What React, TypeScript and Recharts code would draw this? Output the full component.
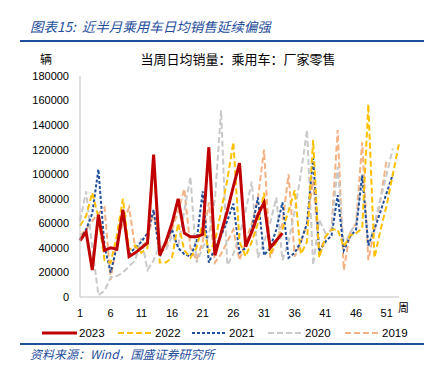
import React from "react";
import { LineChart, Line, XAxis, YAxis } from "recharts";

const weeks: number[] = Array.from({ length: 53 }, (_, i) => i + 1);

const s2023: (number | null)[] = [46000, 53000, 22000, 67000, 38000, 40000, 39000, 71000, 33000, 36000, 40000, 44000, 116000, 34000, 45000, 60000, 80000, 52000, 49000, 49000, 51000, 122000, 34000, 52000, 70000, 90000, 109000, 41000, 53000, 67000, 77000, 40000, 46000, 52000];
const s2022: (number | null)[] = [58000, 66000, 85000, 65000, 30000, 28000, 50000, 80000, 38000, 42000, 36000, 40000, 112000, 28000, 28000, 32000, 60000, 38000, 32000, 40000, 60000, 37000, 45000, 70000, 95000, 126000, 45000, 33000, 45000, 60000, 85000, 35000, 45000, 55000, 70000, 87000, 35000, 45000, 128000, 32000, 49000, 55000, 55000, 41000, 50000, 52000, 56000, 157000, 32000, 55000, 75000, 100000, 125000];
const s2021: (number | null)[] = [47000, 55000, 68000, 104000, 41000, 20000, 41000, 71000, 35000, 40000, 45000, 52000, 71000, 33000, 45000, 55000, 40000, 35000, 33000, 45000, 86000, 28000, 40000, 50000, 62000, 76000, 36000, 40000, 55000, 81000, 34000, 40000, 55000, 77000, 32000, 36000, 45000, 60000, 113000, 37000, 45000, 50000, 83000, 38000, 49000, 55000, 99000, 42000, 55000, 70000, 85000, 100000];
const s2020: (number | null)[] = [62000, 86000, 40000, 1500, 5000, 16000, 17000, 20000, 25000, 30000, 48000, 22000, 30000, 42000, 38000, 50000, 42000, 70000, 98000, 28000, 40000, 50000, 80000, 152000, 26000, 35000, 50000, 70000, 94000, 32000, 45000, 60000, 81000, 30000, 45000, 70000, 100000, 136000, 26000, 63000, 52000, 55000, 106000, 41000, 52000, 60000, 100000, 40000, 60000, 80000, 100000, 121000];
const s2019: (number | null)[] = [50000, 55000, 62000, 68000, 73000, 14000, 45000, 60000, 73000, 40000, 42000, 45000, 70000, 35000, 40000, 55000, 70000, 88000, 40000, 30000, 45000, 77000, 28000, 35000, 45000, 55000, 30000, 45000, 60000, 80000, 120000, 32000, 45000, 60000, 100000, 33000, 44000, 60000, 95000, 35000, 49000, 55000, 136000, 22000, 52000, 60000, 126000, 30000, 55000, 80000, 112000];

const yTicks: number[] = [0, 20000, 40000, 60000, 80000, 100000, 120000, 140000, 160000, 180000];

const data = weeks.map((w, i) => ({
  week: w,
  y2023: s2023[i] ?? null,
  y2022: s2022[i] ?? null,
  y2021: s2021[i] ?? null,
  y2020: s2020[i] ?? null,
  y2019: s2019[i] ?? null,
}));

const seriesStyle = [
  { key: "y2023", name: "2023", color: "#C00000", width: 3, dash: undefined as string | undefined },
  { key: "y2022", name: "2022", color: "#FFC000", width: 2, dash: "6 3" },
  { key: "y2021", name: "2021", color: "#1F4E9C", width: 2, dash: "3 2" },
  { key: "y2020", name: "2020", color: "#C9C9C9", width: 2, dash: "6 3" },
  { key: "y2019", name: "2019", color: "#F4B183", width: 2, dash: "6 3" },
];

const numFont = "'Liberation Sans', Arial, sans-serif";
const cjkFont = "'Noto Sans CJK SC', 'Liberation Sans', sans-serif";
const blue = "#1F4E9C";

const LegendBlock = () => {
  const lefts = [42, 118, 192, 268, 345];
  return (
    <div style={{ position: "absolute", left: 0, top: 325, width: 436, height: 16 }}>
      {seriesStyle.map((s, i) => (
        <div key={s.key} style={{ position: "absolute", left: lefts[i], top: 0, display: "flex", alignItems: "center", height: 16 }}>
          <svg width={35} height={8} style={{ display: "block" }}>
            <line x1={0} y1={4} x2={35} y2={4} stroke={s.color} strokeWidth={s.key === "y2023" ? 3 : 2} strokeDasharray={s.dash} />
          </svg>
          <span style={{ marginLeft: 2, fontFamily: numFont, fontSize: 11.5, color: "#000" }}>{s.name}</span>
        </div>
      ))}
    </div>
  );
};

export default function App() {
  return (
    <div style={{ position: "absolute", left: 0, top: 0, width: 436, height: 366, background: "#fff", overflow: "hidden" }}>
      <div style={{ position: "absolute", left: 30, top: 16, fontFamily: cjkFont, fontStyle: "italic", fontSize: 13.5, color: blue, whiteSpace: "nowrap" }}>
        图表15:&nbsp;&nbsp;近半月乘用车日均销售延续偏强
      </div>
      <div style={{ position: "absolute", left: 20, top: 40, width: 404, height: 2, background: blue }} />
      <div style={{ position: "absolute", left: 40, top: 50, fontFamily: cjkFont, fontSize: 12, color: "#000" }}>辆</div>
      <div style={{ position: "absolute", left: 0, width: 476, top: 49, textAlign: "center", fontFamily: cjkFont, fontSize: 13, color: "#000", whiteSpace: "nowrap" }}>
        当周日均销量：乘用车：厂家零售
      </div>
      <div style={{ position: "absolute", left: 398, top: 299, fontFamily: cjkFont, fontSize: 11, color: "#000" }}>周</div>
      <div style={{ position: "absolute", left: 0, top: 0 }}>
        <LineChart width={436} height={366} data={data} margin={{ top: 76, right: 37, bottom: 39, left: 20 }}>
          <XAxis
            dataKey="week"
            interval={4}
            tickLine={false}
            axisLine={{ stroke: "#BFBFBF" }}
            tick={{ fontFamily: numFont, fontSize: 11, fill: "#000" }}
            tickMargin={6}
            height={30}
          />
          <YAxis
            domain={[0, 180000]}
            ticks={yTicks}
            tickLine={false}
            axisLine={{ stroke: "#BFBFBF" }}
            tick={{ fontFamily: numFont, fontSize: 11, fill: "#000" }}
            tickMargin={5}
            width={60}
            interval={0}
          />
          {[...seriesStyle].reverse().map((s) => (
            <Line
              key={s.key}
              type="linear"
              dataKey={s.key}
              name={s.name}
              stroke={s.color}
              strokeWidth={s.width}
              strokeDasharray={s.dash}
              dot={false}
              activeDot={false}
              connectNulls={false}
              isAnimationActive={false}
            />
          ))}
        </LineChart>
      </div>
      <LegendBlock />
      <div style={{ position: "absolute", left: 20, top: 343, width: 404, height: 2, background: blue }} />
      <div style={{ position: "absolute", left: 30, top: 345, fontFamily: cjkFont, fontStyle: "italic", fontSize: 12, color: blue, whiteSpace: "nowrap" }}>
        资料来源：Wind，国盛证券研究所
      </div>
    </div>
  );
}
